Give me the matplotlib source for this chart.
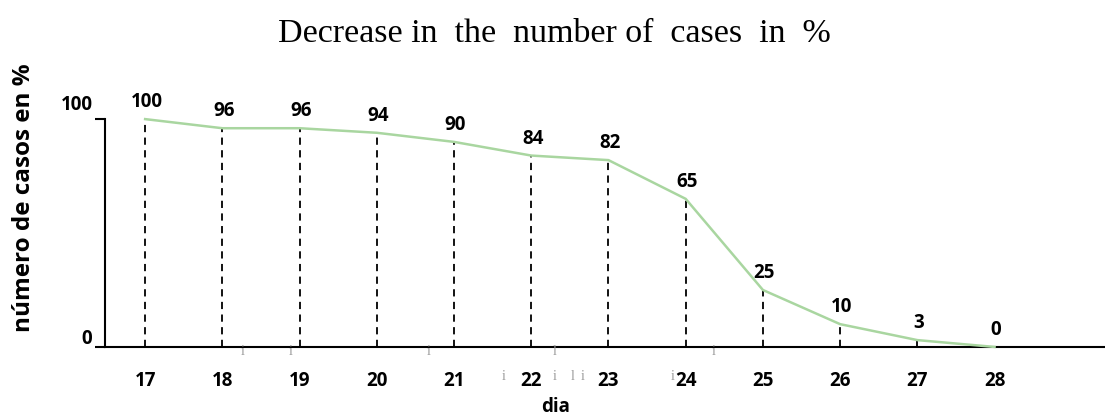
import numpy as np
import matplotlib.pyplot as plt

# data
days = [17, 18, 19, 20, 21, 22, 23, 24, 25, 26, 27, 28]
percent = [100, 96, 96, 94, 90, 84, 82, 65, 25, 10, 3, 0]

# stray grey glyphs that appear in the original scan (day position, glyph, row)
stray_marks = [(18.26, "i", 0), (18.88, "i", 0), (20.67, "i", 0), (22.3, "l", 0), (24.36, "i", 0),
               (21.64, "i", 1), (22.3, "i", 1), (22.53, "l", 1), (22.67, "i", 1), (23.83, "i", 1)]

sans = ["Open Sans", "DejaVu Sans"]
line_color = "#a9d6a0"

fig = plt.figure(figsize=(11.05, 4.15), dpi=100)
ax = fig.add_axes([0.095, 0.164, 0.905, 0.549])

ax.plot(days, percent, color=line_color, lw=1.8, clip_on=False, zorder=3)
ax.vlines(days, 0, percent, colors="black", linestyles=(0, (4, 3)), lw=1.3, zorder=2)

for d, p in zip(days, percent):
    ax.annotate(str(p), (d, p), xytext=(1, 5), textcoords="offset points",
                ha="center", va="bottom", fontsize=13.5, fontweight="bold", family=sans)

ax.set_xlim(16.48, 29.43)
ax.set_ylim(0, 100)

for side in ["top", "right"]:
    ax.spines[side].set_visible(False)
ax.spines["left"].set_bounds(0, 100)
ax.spines["left"].set_linewidth(1.5)
ax.spines["bottom"].set_linewidth(1.5)

ax.set_xticks(days)
ax.set_xticklabels([str(d) for d in days], fontsize=13.5, fontweight="bold", family=sans)
ax.tick_params(axis="x", length=0, pad=17)
ax.set_yticks([0, 100])
ax.set_yticklabels([])
ax.tick_params(axis="y", length=7, width=1.5, direction="out")
for v, dy in [(0, -1.5), (100, 3)]:
    ax.annotate(str(v), (0, v), xycoords=("axes fraction", "data"), xytext=(-9, dy),
                textcoords="offset points", ha="right", va="bottom",
                fontsize=13.5, fontweight="bold", family=sans)

for d, ch, row in stray_marks:
    ax.annotate(ch, (d, 0), xytext=(0, -3 - row * 18), textcoords="offset points",
                ha="center", va="center", fontsize=10, color="#999999", family="Liberation Serif")

ax.set_xlabel("dia", fontsize=13.5, fontweight="bold", family=sans, labelpad=0)
ax.xaxis.set_label_coords(0.451, -0.22)
ax.set_ylabel("número de casos en %", fontsize=17.5, fontweight="bold", family=sans)
ax.yaxis.set_label_coords(-0.069, 0.655)

fig.suptitle("Decrease in  the  number of  cases  in  %", x=0.502, y=0.955,
             fontsize=24.5, family="Liberation Serif")

fig.savefig("out.png", dpi=100)
